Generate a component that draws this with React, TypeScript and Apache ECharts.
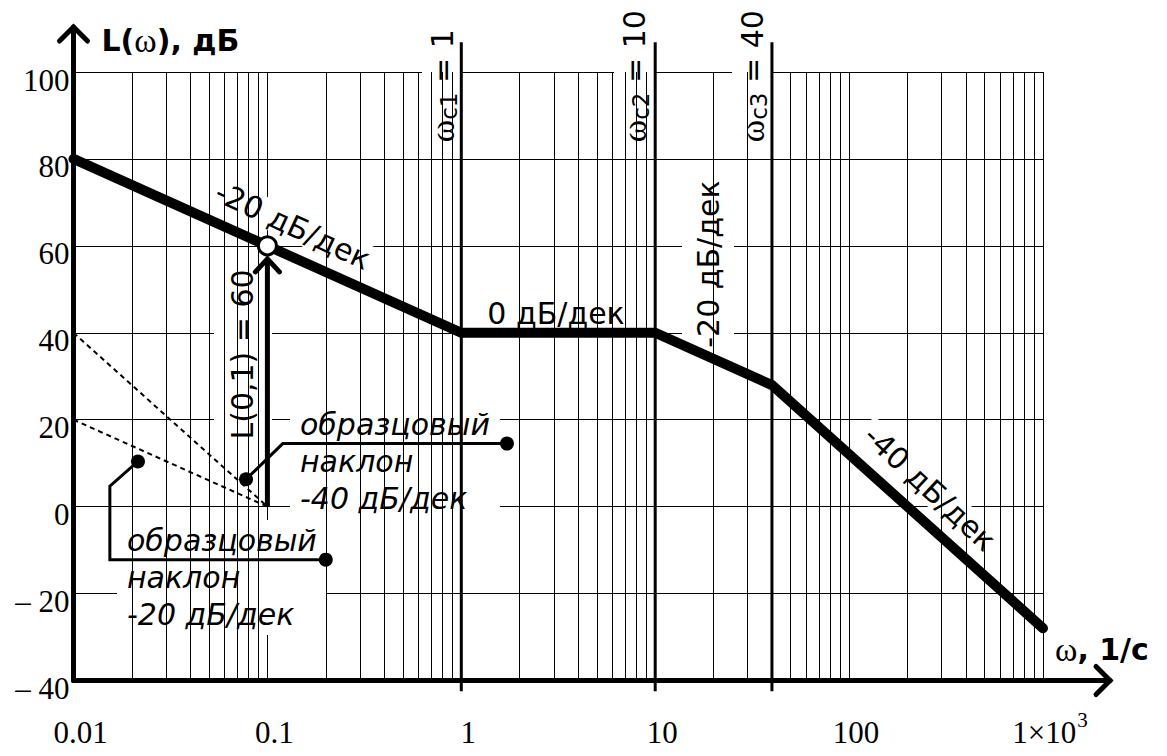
import React, { useEffect, useRef } from 'react';
import * as echarts from 'echarts';

// ---- axes ----
const xMin = 0.01;
const xMax = 1000;
const yMin = -40;
const yMax = 100;
const yStep = 20;
const decades = [0.01, 0.1, 1, 10, 100];
const minorMultipliers = [2, 3, 4, 5, 6, 7, 8, 9];
const xTickLabels = ['0.01', '0.1', '1', '10', '100', '1×10'];
const xTickSup = ['', '', '', '', '', '3'];

// ---- asymptotic LAFC ----
const lafchW = [0.01, 1, 10, 40, 1000];
const lafchL = [80, 40, 40, 27.96, -27.96];

// ---- corner frequencies ----
const cornerW = [1, 10, 40];
const cornerSub = ['c1', 'c2', 'c3'];
const cornerVal = ['1', '10', '40'];

// ---- reference slopes (dashed) ----
const ref20W = [0.01, 0.1];
const ref20L = [20, 0];
const ref40W = [0.01, 0.1];
const ref40L = [40, 0];

// ---- L(0,1) point ----
const pointW = 0.1;
const pointL = 60;
const arrowBaseL = 0;
const arrowTipL = 57;

// ---- callouts ----
const callout40W = [0.0776, 0.12, 1.72];
const callout40L = [6.3, 14.5, 14.5];
const callout20W = [0.0215, 0.0154, 0.0154, 0.2];
const callout20L = [10.4, 4.7, -12.2, -12.2];

const BLACK = '#000';
const SANS = 'DejaVu Sans';
const SERIF = 'Liberation Serif';

const minorGrid: number[] = [];
decades.forEach((d) => minorMultipliers.forEach((m) => minorGrid.push(+(d * m).toPrecision(6))));

const wRich = {
  w: { fontFamily: SERIF, fontSize: 34, fill: BLACK, lineHeight: 36 },
  s: { fontFamily: SANS, fontSize: 23, fill: BLACK, lineHeight: 23, verticalAlign: 'bottom' },
  t: { fontFamily: SANS, fontSize: 30, fill: BLACK, lineHeight: 36 },
};

type Ann = {
  x: number;
  y: number;
  text: string;
  rotate?: number;
  align?: string;
  padding: number[];
  italic?: boolean;
  lineHeight?: number;
  rich?: any;
};

const annotations: Ann[] = [
  { x: 0.1355, y: 64.66, text: '-20 дБ/дек', rotate: -25, padding: [0, 6] },
  { x: 3.08, y: 44.4, text: '0 дБ/дек', padding: [5, 26] },
  { x: 18.72, y: 55.8, text: '-20 дБ/дек', rotate: 90, padding: [11, 20] },
  { x: 261.4, y: 4.24, text: '-40 дБ/дек', rotate: -43, padding: [0, 6] },
  { x: 0.0748, y: 35.02, text: 'L(0,1) = 60', rotate: 90, padding: [14, 10] },
  { x: 0.1308, y: 10.4, text: 'образцовый\nнаклон\n-40 дБ/дек', italic: true, align: 'left', lineHeight: 37, padding: [4, 10] },
  { x: 0.01676, y: -16.28, text: 'образцовый\nнаклон\n-20 дБ/дек', italic: true, align: 'left', lineHeight: 37, padding: [2, 10] },
];
const cornerLabelX = [0.7953, 7.78, 31.57];
cornerW.forEach((_, i) => {
  annotations.push({
    x: cornerLabelX[i],
    y: 81.08,
    text: `{w|ω}{s|${cornerSub[i]}}{t| = ${cornerVal[i]}}`,
    rotate: 90,
    align: 'left',
    padding: [2, 12],
    rich: wRich,
  });
});

function xLabel(v: number) {
  const i = Math.round(Math.log10(v)) + 2;
  const main = xTickLabels[i] ?? String(v);
  const sup = xTickSup[i] ?? '';
  return sup ? `{n|${main}}{sup|${sup}}` : `{n|${main}}`;
}

function yLabel(v: number) {
  return `{a|${v < 0 ? `– ${-v}` : String(v)}}`;
}

const pairs = (xs: number[], ys: number[]) => xs.map((x, i) => [x, ys[i]]);

function buildOption() {
  const series: any[] = [];
  series.push({
    type: 'line',
    name: 'grid',
    data: [],
    z: 1,
    silent: true,
    markLine: {
      silent: true,
      symbol: ['none', 'none'],
      label: { show: false },
      lineStyle: { color: BLACK, width: 1, type: 'solid' },
      emphasis: { disabled: true },
      data: minorGrid.map((x) => ({ xAxis: x })),
    },
  });
  [pairs(ref20W, ref20L), pairs(ref40W, ref40L)].forEach((d) => {
    series.push({
      type: 'line',
      data: d,
      z: 2,
      showSymbol: false,
      silent: true,
      lineStyle: { color: BLACK, width: 2, type: [5, 4] },
    });
  });
  cornerW.forEach((w) => {
    series.push({
      type: 'line',
      data: [[w, yMin - 2.5], [w, yMax + 6.84]],
      z: 4,
      clip: false,
      showSymbol: false,
      silent: true,
      lineStyle: { color: BLACK, width: 3 },
    });
  });
  series.push({
    type: 'line',
    data: [[pointW, arrowBaseL], [pointW, arrowTipL]],
    z: 4,
    showSymbol: false,
    silent: true,
    lineStyle: { color: BLACK, width: 5 },
  });
  [pairs(callout40W, callout40L), pairs(callout20W, callout20L)].forEach((d) => {
    series.push({
      type: 'line',
      z: 5,
      silent: true,
      showSymbol: true,
      lineStyle: { color: BLACK, width: 3, join: 'miter' },
      itemStyle: { color: BLACK },
      data: d.map((p, i) => ({
        value: p,
        symbol: i === 0 || i === d.length - 1 ? 'circle' : 'none',
        symbolSize: 14,
      })),
    });
  });
  series.push({
    type: 'line',
    name: 'L(ω)',
    data: pairs(lafchW, lafchL),
    z: 6,
    showSymbol: false,
    silent: true,
    lineStyle: { color: BLACK, width: 10, cap: 'round', join: 'miter' },
  });
  series.push({
    type: 'scatter',
    data: [[pointW, pointL]],
    z: 7,
    symbolSize: 18,
    silent: true,
    itemStyle: { color: '#fff', borderColor: BLACK, borderWidth: 3, opacity: 1 },
  });

  return {
    animation: false,
    backgroundColor: '#fff',
    grid: { left: 73.5, right: 124, top: 72, bottom: 70, containLabel: false },
    xAxis: {
      type: 'log',
      logBase: 10,
      min: xMin,
      max: xMax,
      axisLine: { show: true, onZero: false, lineStyle: { color: BLACK, width: 5 } },
      axisTick: { show: false },
      minorTick: { show: false },
      splitLine: { show: true, lineStyle: { color: BLACK, width: 1 } },
      axisLabel: {
        margin: 28,
        padding: [0, 0, 0, 14],
        formatter: xLabel,
        rich: {
          n: { fontFamily: SERIF, fontSize: 31, color: BLACK, lineHeight: 48 },
          sup: { fontFamily: SERIF, fontSize: 21, color: BLACK, lineHeight: 21, padding: [0, 0, 26, 1] },
        },
      },
      name: '{w|ω}{b|, 1/с}',
      nameLocation: 'end',
      nameGap: 12,
      nameTextStyle: {
        align: 'left',
        verticalAlign: 'bottom',
        padding: [0, 0, 14, 0],
        rich: {
          w: { fontFamily: SERIF, fontSize: 34, color: BLACK },
          b: { fontFamily: SANS, fontWeight: 'bold', fontSize: 30, color: BLACK },
        },
      },
    },
    yAxis: {
      type: 'value',
      min: yMin,
      max: yMax,
      interval: yStep,
      axisLine: { show: true, lineStyle: { color: BLACK, width: 5 } },
      axisTick: { show: false },
      splitLine: { show: true, lineStyle: { color: BLACK, width: 1 } },
      axisLabel: {
        margin: 4,
        formatter: yLabel,
        rich: {
          a: { fontFamily: SERIF, fontSize: 31, color: BLACK, padding: [16, 0, 0, 0] },
        },
      },
      name: '{b|L(}{w|ω}{b|), дБ}',
      nameLocation: 'end',
      nameGap: 32,
      nameTextStyle: {
        align: 'left',
        verticalAlign: 'middle',
        padding: [0, 0, 0, 28],
        rich: {
          w: { fontFamily: SERIF, fontSize: 34, color: BLACK },
          b: { fontFamily: SANS, fontWeight: 'bold', fontSize: 30, color: BLACK },
        },
      },
    },
    series,
  };
}

export default function App() {
  const ref = useRef<HTMLDivElement>(null);
  useEffect(() => {
    const chart = echarts.init(ref.current!, null, { renderer: 'svg' });
    chart.setOption(buildOption() as any);
    const P = (x: number, y: number) => chart.convertToPixel({ gridIndex: 0 } as any, [x, y]) as number[];
    const stroke = { stroke: BLACK, fill: null, lineWidth: 5, lineCap: 'round', lineJoin: 'miter' };
    const [x0, yTop] = P(xMin, yMax);
    const [xR, yB] = P(xMax, yMin);
    const [tx, ty] = P(pointW, arrowTipL);
    const poly = (points: number[][], lw = 5) => ({
      type: 'polyline',
      z: 100,
      silent: true,
      shape: { points },
      style: { ...stroke, lineWidth: lw },
    });
    const texts = annotations.map((a) => {
      const [px, py] = P(a.x, a.y);
      const style: any = {
        text: a.text,
        fill: BLACK,
        fontFamily: SANS,
        fontSize: 30,
        fontStyle: a.italic ? 'italic' : 'normal',
        align: a.align || 'center',
        verticalAlign: 'middle',
        backgroundColor: '#fff',
        padding: a.padding,
      };
      if (a.lineHeight) style.lineHeight = a.lineHeight;
      if (a.rich) style.rich = a.rich;
      return {
        type: 'text',
        x: px,
        y: py,
        rotation: ((a.rotate || 0) * Math.PI) / 180,
        z: 3,
        silent: true,
        style,
      };
    });
    chart.setOption({
      graphic: {
        elements: [
          ...texts,
          poly([[x0, yTop], [x0, yTop - 45]]),
          poly([[x0 - 14, yTop - 31], [x0, yTop - 45], [x0 + 14, yTop - 31]]),
          poly([[xR, yB], [xR + 67, yB]]),
          poly([[xR + 53, yB - 14], [xR + 67, yB], [xR + 53, yB + 14]]),
          poly([[tx - 12, ty + 13], [tx, ty], [tx + 12, ty + 13]]),
        ],
      },
    } as any);
    return () => chart.dispose();
  }, []);
  return (
    <div
      ref={ref}
      style={{ position: 'absolute', left: 0, top: 0, width: 1167, height: 756, background: '#fff' }}
    />
  );
}
